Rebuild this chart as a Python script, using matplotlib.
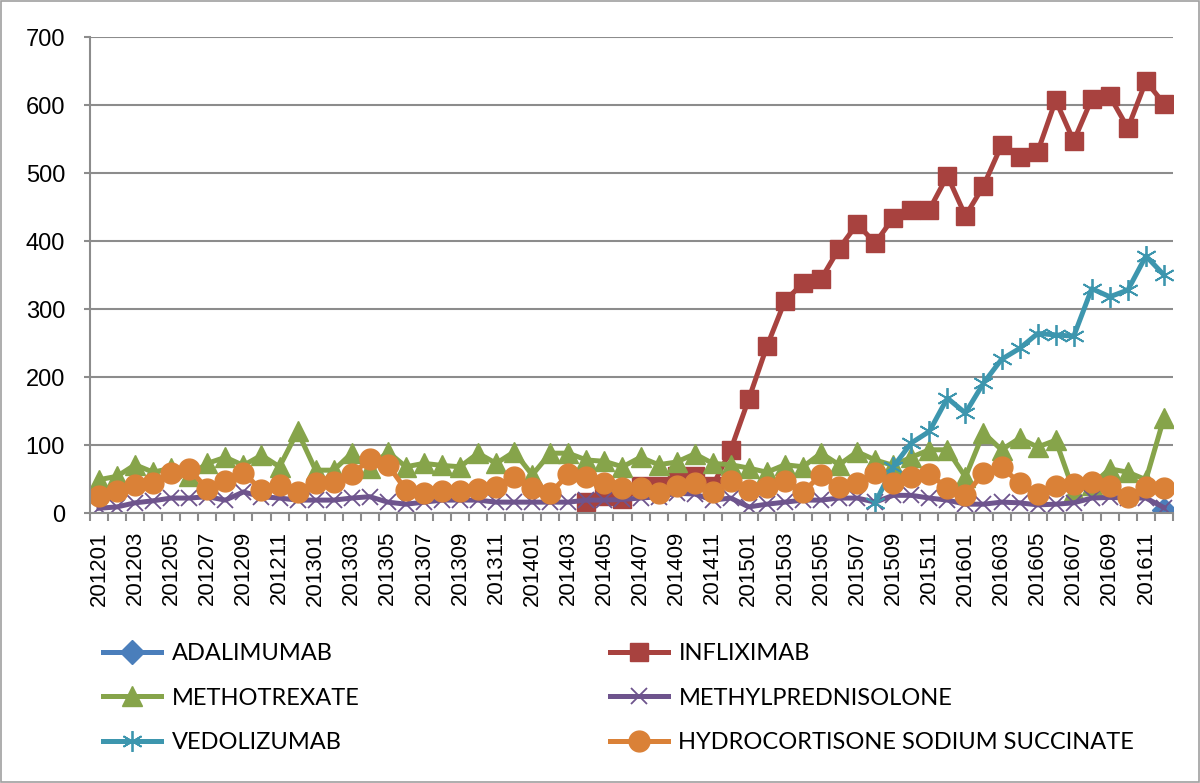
import numpy as np
import matplotlib
matplotlib.use("Agg")
import matplotlib.pyplot as plt
from matplotlib.lines import Line2D
from matplotlib.patches import Rectangle

nan = np.nan

# Meses 201201 .. 201612
meses = [f"{a}{m:02d}" for a in range(2012, 2017) for m in range(1, 13)]

adalimumab = [nan] * 59 + [5]

infliximab = [nan] * 27 + [16, 25, 20, 40, 40, 55, 55, 40, 93,
                           168, 245, 312, 338, 344, 389, 425, 397, 434, 446, 446, 496,
                           437, 481, 541, 523, 531, 607, 547, 609, 613, 566, 635, 602]

methotrexate = [49, 54, 71, 60, 66, 55, 73, 82, 70, 85, 68, 120,
                63, 63, 88, 66, 90, 68, 73, 70, 68, 88, 73, 90,
                56, 88, 88, 78, 76, 68, 82, 71, 75, 87, 73, 71,
                66, 60, 71, 68, 88, 71, 90, 78, 70, 82, 93, 93,
                53, 118, 93, 110, 97, 107, 32, 41, 65, 60, 49, 140]

methylpred = [7, 9, 15, 18, 22, 22, 24, 19, 31, 24, 22, 19,
              19, 19, 22, 24, 16, 13, 16, 19, 19, 19, 16, 16,
              16, 16, 16, 19, 19, 20, 22, 24, 29, 28, 19, 22,
              9, 13, 16, 19, 19, 22, 22, 16, 26, 26, 22, 19,
              13, 13, 16, 15, 12, 13, 15, 22, 23, 22, 22, 8]

vedolizumab = [nan] * 43 + [15, 68, 103, 120, 169, 147, 191, 226, 242,
                            264, 262, 260, 330, 318, 328, 378, 350]

hydrocortisone = [25, 32, 41, 44, 59, 65, 35, 47, 59, 34, 41, 31,
                  44, 46, 57, 79, 71, 34, 30, 33, 33, 35, 39, 53,
                  37, 29, 57, 53, 44, 37, 37, 30, 40, 44, 31, 47,
                  34, 38, 47, 31, 56, 38, 44, 59, 44, 53, 57, 37,
                  26, 59, 68, 44, 28, 40, 43, 46, 40, 24, 38, 37]

series = [
    ("ADALIMUMAB", adalimumab, "#4A7EBB", "D", 12, None),
    ("INFLIXIMAB", infliximab, "#A8423F", "s", 13, None),
    ("METHOTREXATE", methotrexate, "#86A44A", "^", 15, None),
    ("METHYLPREDNISOLONE", methylpred, "#6E548D", "x", 12, 1.3),
    ("VEDOLIZUMAB", vedolizumab, "#3D96AE", (6, 2, 0), 15, 1.3),
    ("HYDROCORTISONE SODIUM SUCCINATE", hydrocortisone, "#DA8137", "o", 15, None),
]

fig = plt.figure(figsize=(12, 7.83), dpi=100)
ax = fig.add_axes([0.075, 0.3448, 0.9025, 0.6079])

x = np.arange(len(meses))
handles = {}
for nombre, vals, col, mk, ms, mew in series:
    kw = dict(color=col, lw=3.6, marker=mk, markersize=ms,
              markerfacecolor=col, markeredgecolor=col, solid_joinstyle="round")
    if mew is not None:
        kw["markeredgewidth"] = mew
    ax.plot(x, vals, **kw)
    handles[nombre] = Line2D([], [], **kw)

# Ejes estilo Excel
ax.set_xlim(-0.5, len(meses) - 0.5)
ax.set_ylim(0, 700)
ax.set_yticks(range(0, 701, 100))
ax.yaxis.grid(True, color="#8C8C8C", lw=1.5)
ax.set_axisbelow(True)
for s in ["top", "right"]:
    ax.spines[s].set_visible(False)
for s in ["left", "bottom"]:
    ax.spines[s].set_color("#8C8C8C")
    ax.spines[s].set_linewidth(1.5)
ax.tick_params(axis="y", length=4, width=1.5, color="#8C8C8C", labelsize=17, pad=14)

ax.set_xticks(x[::2])
ax.set_xticklabels(meses[::2], rotation=90, fontsize=16)
ax.set_xticks(np.arange(-0.5, len(meses)), minor=True)
ax.tick_params(axis="x", which="major", length=0, pad=13)
ax.tick_params(axis="x", which="minor", length=6, width=1.5, color="#8C8C8C")

for lab in ax.get_xticklabels() + ax.get_yticklabels():
    lab.set_family(["Liberation Sans", "DejaVu Sans"])

# Leyenda en dos columnas
fuente = {"family": ["Lato", "DejaVu Sans"], "size": 17}
col1 = ["ADALIMUMAB", "METHOTREXATE", "VEDOLIZUMAB"]
col2 = ["INFLIXIMAB", "METHYLPREDNISOLONE", "HYDROCORTISONE SODIUM SUCCINATE"]
for nombres, xpos in [(col1, 103 / 1200), (col2, 610 / 1200)]:
    fig.legend([handles[n] for n in nombres], nombres, loc="upper left",
               bbox_to_anchor=(xpos, 1 - 643 / 783), frameon=False, prop=fuente,
               handlelength=2.45, handletextpad=0.45, labelspacing=1.0,
               borderpad=0, borderaxespad=0)

# Borde del área del gráfico
fig.patches.append(Rectangle((0.001, 0.001), 0.998, 0.998, transform=fig.transFigure,
                             fill=False, edgecolor="#A0A0A0", lw=1.2))

plt.savefig("out.png", dpi=100)
